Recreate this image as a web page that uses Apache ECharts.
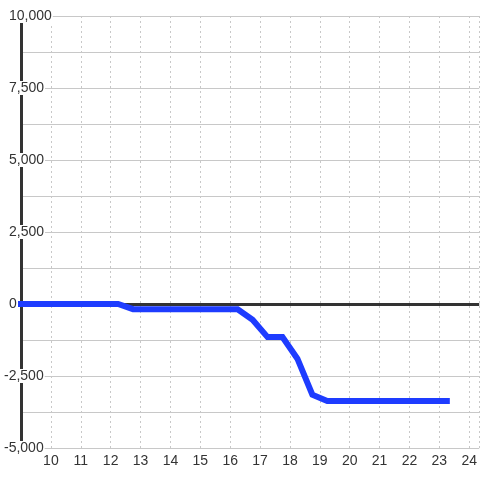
<!DOCTYPE html>
<html>
<head>
<meta charset="utf-8">
<script src="https://cdn.jsdelivr.net/npm/echarts@6/dist/echarts.min.js"></script>
<style>
  html, body { margin: 0; padding: 0; background: #fff; }
  #chart { width: 480px; height: 480px; }
</style>
</head>
<body>
<div id="chart"></div>
<script>
// hour of day -> value
const hours = [9, 12.25, 12.75, 16.25, 16.75, 17.25, 17.75, 18.25, 18.75, 19.25, 23.25];
const values = [0, 0, -180, -180, -550, -1150, -1150, -1900, -3150, -3370, -3370];

const xMin = 9, xMax = 24 + 1 / 3;
const yMin = -5000, yMax = 10000, yStep = 1250, yLabelStep = 2500;

const lineColor = "#1e3cff";
const textColor = "#333";
const gridColor = "#c8c8c8";
const font = "Liberation Sans, Arial, sans-serif";

const chart = echarts.init(document.getElementById("chart"));

const yBase = {
  type: "value",
  min: yMin,
  max: yMax,
  interval: yStep,
  axisTick: { show: false },
};

const option = {
  backgroundColor: "#fff",
  animation: false,
  grid: { left: 20, top: 16, right: 0, bottom: 32, containLabel: false },
  xAxis: {
    type: "value",
    min: xMin,
    max: xMax,
    interval: 1,
    axisLine: { show: false },
    axisTick: { show: false },
    splitLine: { show: true, lineStyle: { color: gridColor, type: [2, 3], width: 1 } },
    axisLabel: {
      color: textColor,
      fontSize: 14,
      fontFamily: font,
      margin: 6,
      showMinLabel: false,
      showMaxLabel: false,
      formatter: (v) => (Number.isInteger(v) && v > xMin ? String(v) : ""),
    },
  },
  yAxis: [
    // grid lines only
    Object.assign({}, yBase, {
      z: 0,
      axisLine: { show: false },
      axisLabel: { show: false },
      splitLine: { show: true, lineStyle: { color: gridColor, width: 1 } },
    }),
    // axis line + labels on top of grid lines
    Object.assign({}, yBase, {
      z: 1,
      position: "left",
      axisLine: { show: true, onZero: false, lineStyle: { color: "#333", width: 3 } },
      splitLine: { show: false },
      axisLabel: {
        color: textColor,
        fontSize: 14,
        fontFamily: font,
        align: "left",
        margin: 18,
        backgroundColor: "#fff",
        padding: [0, 1],
        formatter: (v) => {
          if (v % yLabelStep !== 0) return "";
          const s = v.toLocaleString("en-US");
          return v < 0 ? s : "{pad| }" + s;
        },
        rich: {
          pad: { width: 5, fontSize: 14, fontFamily: font },
        },
      },
    }),
  ],
  series: [
    {
      type: "line",
      yAxisIndex: 0,
      z: 3,
      clip: false,
      data: hours.map((h, i) => [h, values[i]]),
      showSymbol: false,
      lineStyle: { color: lineColor, width: 6, cap: "square", join: "miter" },
      markLine: {
        z: 2,
        silent: true,
        symbol: "none",
        label: { show: false },
        lineStyle: { color: "#333", width: 3, type: "solid" },
        data: [{ yAxis: 0 }],
      },
    },
  ],
};

chart.setOption(option);
</script>
</body>
</html>
